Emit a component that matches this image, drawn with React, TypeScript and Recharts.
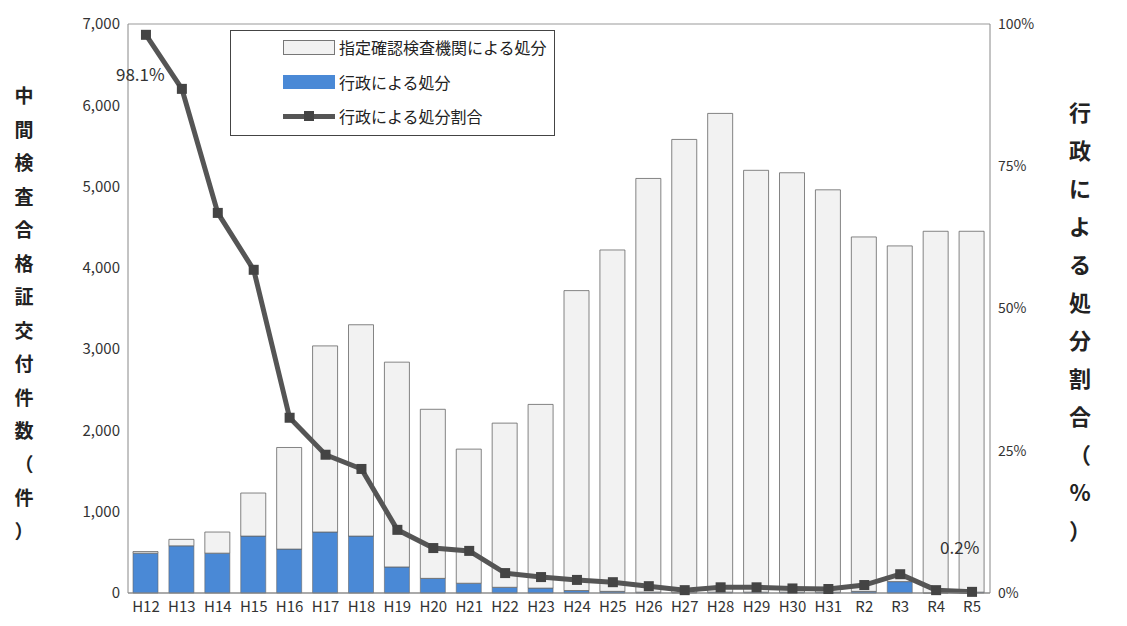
import React from "react";
import {
  ComposedChart,
  Bar,
  Line,
  XAxis,
  YAxis,
  CartesianGrid,
} from "recharts";

const years = ["H12","H13","H14","H15","H16","H17","H18","H19","H20","H21","H22","H23","H24","H25","H26","H27","H28","H29","H30","H31","R2","R3","R4","R5"];
const totals = [510,660,750,1230,1790,3040,3300,2840,2260,1770,2090,2320,3720,4220,5100,5580,5900,5200,5170,4960,4380,4270,4450,4450];
const gov = [490,580,490,700,540,750,700,320,180,120,70,60,30,20,10,5,10,10,10,10,20,140,2,10];
const ratio = [98.1,88.6,66.8,56.8,30.8,24.3,21.8,11.1,7.9,7.4,3.5,2.8,2.3,1.9,1.2,0.5,1.0,1.0,0.8,0.7,1.4,3.3,0.5,0.2];

const data = years.map((y, i) => ({
  year: y,
  gov: gov[i],
  agency: totals[i] - gov[i],
  ratio: ratio[i],
}));

const FONT = "'Noto Sans CJK JP', 'Noto Sans', sans-serif";
const leftTitle = "中間検査合格証交付件数（件）".split("");
const rightTitle = "行政による処分割合（%）".split("");

const RatioLabel = (props: any) => {
  const { x, y, index } = props;
  if (index === 0)
    return <text x={x - 30} y={y + 46} fontSize={17} fill="#333" fontFamily={FONT}>98.1%</text>;
  if (index === ratio.length - 1)
    return <text x={x - 32} y={y - 38} fontSize={17} fill="#333" fontFamily={FONT}>0.2%</text>;
  return null;
};

const SquareDot = (props: any) => {
  const { cx, cy } = props;
  return <rect x={cx - 5} y={cy - 5} width={10} height={10} fill="#444" />;
};

export default function App() {
  return (
    <div style={{ position: "absolute", left: 0, top: 0, width: 1127, height: 626, background: "#fff", fontFamily: FONT }}>
      <ComposedChart width={1127} height={626} data={data} margin={{ top: 24, right: 67, bottom: 3, left: 60 }}>
        <CartesianGrid vertical={false} stroke="#999" />
        <XAxis dataKey="year" height={30} interval={0} tick={{ fontSize: 15, fill: "#333" }} tickLine={false} axisLine={{ stroke: "#888" }} />
        <YAxis yAxisId="l" domain={[0, 7000]} ticks={[0,1000,2000,3000,4000,5000,6000,7000]} width={68} tickFormatter={(v) => v.toLocaleString("en-US")} tick={{ fontSize: 15, fill: "#333" }} axisLine={{ stroke: "#888" }} tickLine={false} />
        <YAxis yAxisId="r" orientation="right" domain={[0, 100]} ticks={[0,25,50,75,100]} width={70} tickFormatter={(v) => v + "%"} tick={{ fontSize: 14, fill: "#333" }} axisLine={{ stroke: "#888" }} tickLine={false} />
        <Bar yAxisId="l" dataKey="gov" stackId="a" barSize={25} fill="#4a89d6" stroke="#666" strokeWidth={0.6} isAnimationActive={false} />
        <Bar yAxisId="l" dataKey="agency" stackId="a" barSize={25} fill="#f2f2f2" stroke="#666" strokeWidth={0.8} isAnimationActive={false} />
        <Line yAxisId="r" dataKey="ratio" stroke="#555" strokeWidth={5} dot={<SquareDot />} label={<RatioLabel />} isAnimationActive={false} />
      </ComposedChart>
      <div style={{ position: "absolute", left: 230, top: 30, width: 323, height: 104, border: "1px solid #444", background: "#fff", fontSize: 16, color: "#222" }}>
        <div style={{ position: "absolute", left: 52, top: 4, display: "flex", alignItems: "center" }}>
          <span style={{ width: 50, height: 13, background: "#f2f2f2", border: "1px solid #777", marginRight: 4 }} />指定確認検査機関による処分
        </div>
        <div style={{ position: "absolute", left: 52, top: 39, display: "flex", alignItems: "center" }}>
          <span style={{ width: 52, height: 14, background: "#4a89d6", marginRight: 4 }} />行政による処分
        </div>
        <div style={{ position: "absolute", left: 52, top: 73, display: "flex", alignItems: "center" }}>
          <span style={{ position: "relative", width: 52, height: 5, background: "#555", marginRight: 4 }}>
            <span style={{ position: "absolute", left: 21, top: -3, width: 10, height: 10, background: "#444" }} />
          </span>行政による処分割合
        </div>
      </div>
      <div style={{ position: "absolute", left: 12, top: 78, width: 24, textAlign: "center", fontSize: 19, fontWeight: "bold", color: "#222", lineHeight: "33.5px" }}>
        {leftTitle.map((c, i) => <div key={i}>{c}</div>)}
      </div>
      <div style={{ position: "absolute", left: 1066, top: 92, width: 28, textAlign: "center", fontSize: 22, fontWeight: "bold", color: "#222", lineHeight: "38px" }}>
        {rightTitle.map((c, i) => <div key={i}>{c}</div>)}
      </div>
    </div>
  );
}
